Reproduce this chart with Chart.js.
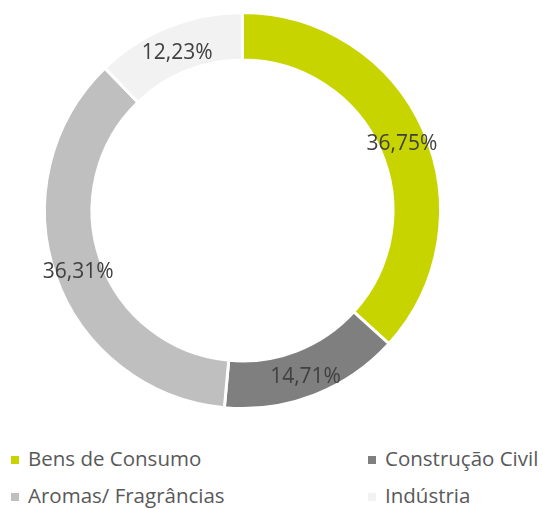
<!DOCTYPE html>
<html>
<head>
<meta charset="utf-8">
<script src="https://cdn.jsdelivr.net/npm/chart.js@4"></script>
<style>
  html, body { margin: 0; padding: 0; background: #fff; }
  #wrap { position: relative; width: 543px; height: 509px; }
  #chartBox { position: absolute; left: 0; top: 0; width: 543px; height: 430px; }
  .leg { position: absolute; font-family: "Open Sans", sans-serif; font-size: 20.5px;
         line-height: 27px; color: #595959; white-space: nowrap; padding-left: 17px; }
  .leg i { position: absolute; left: 0; top: 11px; width: 8px; height: 8px; }
</style>
</head>
<body>
<div id="wrap">
  <div id="chartBox"><canvas id="donut"></canvas></div>
  <div id="legend"></div>
</div>
<script>
// Chart data
const categories = ['Bens de Consumo', 'Construção Civil', 'Aromas/ Fragrâncias', 'Indústria'];
const shares = [36.75, 14.71, 36.31, 12.23];
const colors = ['#C8D400', '#7F7F7F', '#BFBFBF', '#F2F2F2'];

// Legend grid: column x and row top for each item
const legendCols = [11, 368];
const legendRows = [445, 482];

function fmtPct(v) {
  return v.toFixed(2).replace('.', ',') + '%';
}

// Percent labels drawn in the middle of each ring segment
const sliceLabels = {
  id: 'sliceLabels',
  afterDatasetsDraw(chart) {
    const ctx = chart.ctx;
    const meta = chart.getDatasetMeta(0);
    ctx.save();
    ctx.font = '21px "Open Sans", sans-serif';
    ctx.fillStyle = '#404040';
    ctx.textAlign = 'center';
    ctx.textBaseline = 'middle';
    meta.data.forEach((arc, i) => {
      const p = arc.getCenterPoint();
      ctx.fillText(fmtPct(shares[i]), p.x, p.y + 4);
    });
    ctx.restore();
  }
};

document.addEventListener('DOMContentLoaded', () => {
  new Chart(document.getElementById('donut'), {
    type: 'doughnut',
    data: {
      labels: categories,
      datasets: [{
        data: shares,
        backgroundColor: colors,
        borderColor: '#ffffff',
        borderWidth: 3
      }]
    },
    options: {
      responsive: true,
      maintainAspectRatio: false,
      animation: false,
      cutout: '76%',
      layout: { padding: { left: 43, right: 101, top: 11, bottom: 20 } },
      plugins: {
        legend: { display: false },
        tooltip: { enabled: false }
      }
    },
    plugins: [sliceLabels]
  });

  // Build the legend in a 2x2 grid
  const legend = document.getElementById('legend');
  categories.forEach((name, i) => {
    const item = document.createElement('div');
    item.className = 'leg';
    item.style.left = legendCols[i % 2] + 'px';
    item.style.top = legendRows[Math.floor(i / 2)] + 'px';
    item.innerHTML = '<i style="background:' + colors[i] + '"></i>' + name;
    legend.appendChild(item);
  });
});
</script>
</body>
</html>
